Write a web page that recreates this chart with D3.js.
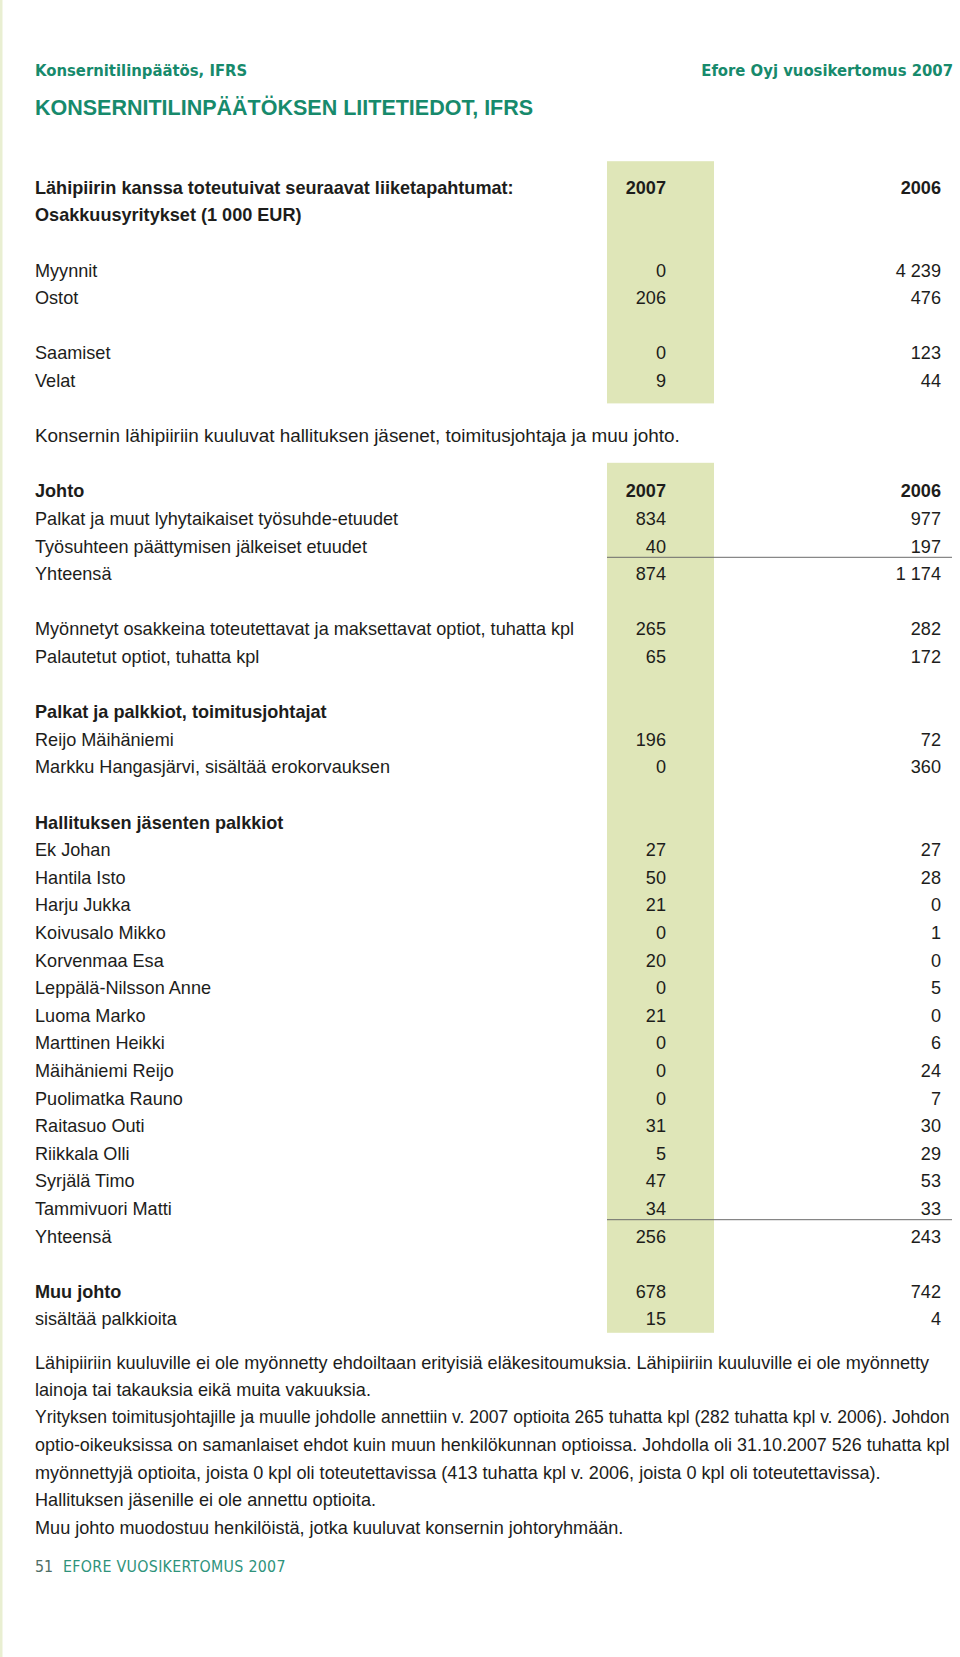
<!DOCTYPE html>
<html>
<head>
<meta charset="utf-8">
<script src="https://cdn.jsdelivr.net/npm/d3@7"></script>
<style>
  html, body { margin: 0; padding: 0; background: #fff; }
  svg { display: block; }
</style>
</head>
<body>
<div id="page"></div>
<script>
// ---- Data ----
const years = ["2007", "2006"];

const osakkLabels = ["Myynnit", "Ostot", "Saamiset", "Velat"];
const osakk2007 = [0, 206, 0, 9];
const osakk2006 = [4239, 476, 123, 44];

const johtoLabels = ["Palkat ja muut lyhytaikaiset työsuhde-etuudet", "Työsuhteen päättymisen jälkeiset etuudet", "Yhteensä"];
const johto2007 = [834, 40, 874];
const johto2006 = [977, 197, 1174];

const optioLabels = ["Myönnetyt osakkeina toteutettavat ja maksettavat optiot, tuhatta kpl", "Palautetut optiot, tuhatta kpl"];
const optio2007 = [265, 65];
const optio2006 = [282, 172];

const tjLabels = ["Reijo Mäihäniemi", "Markku Hangasjärvi, sisältää erokorvauksen"];
const tj2007 = [196, 0];
const tj2006 = [72, 360];

const hallLabels = ["Ek Johan", "Hantila Isto", "Harju Jukka", "Koivusalo Mikko", "Korvenmaa Esa",
  "Leppälä-Nilsson Anne", "Luoma Marko", "Marttinen Heikki", "Mäihäniemi Reijo", "Puolimatka Rauno",
  "Raitasuo Outi", "Riikkala Olli", "Syrjälä Timo", "Tammivuori Matti", "Yhteensä"];
const hall2007 = [27, 50, 21, 0, 20, 0, 21, 0, 0, 0, 31, 5, 47, 34, 256];
const hall2006 = [27, 28, 0, 1, 0, 5, 0, 6, 24, 7, 30, 29, 53, 33, 243];

const muuLabels = ["Muu johto", "sisältää palkkioita"];
const muu2007 = [678, 15];
const muu2006 = [742, 4];

const notes = [
  "Lähipiiriin kuuluville ei ole myönnetty ehdoiltaan erityisiä eläkesitoumuksia. Lähipiiriin kuuluville ei ole myönnetty",
  "lainoja tai takauksia eikä muita vakuuksia.",
  "Yrityksen toimitusjohtajille ja muulle johdolle annettiin v. 2007 optioita 265 tuhatta kpl (282 tuhatta kpl v. 2006). Johdon",
  "optio-oikeuksissa on samanlaiset ehdot kuin muun henkilökunnan optioissa. Johdolla oli 31.10.2007 526 tuhatta kpl",
  "myönnettyjä optioita, joista 0 kpl oli toteutettavissa (413 tuhatta kpl v. 2006, joista 0 kpl oli toteutettavissa).",
  "Hallituksen jäsenille ei ole annettu optioita.",
  "Muu johto muodostuu henkilöistä, jotka kuuluvat konsernin johtoryhmään."
];

// ---- Page setup ----
const W = 960, H = 1657;
const GREEN = "#178a6c";
const TEXT = "#1d1d1b";
const BODY_FONT = "'Liberation Sans', Arial, Helvetica, sans-serif";
const HEAD_FONT = "'DejaVu Sans Condensed', 'DejaVu Sans', sans-serif";
const FS = 18.1;

const fmt = d3.formatLocale({ decimal: ",", thousands: " ", grouping: [3], currency: ["", " €"] }).format(",d");

const svg = d3.select("#page").append("svg")
  .attr("width", W).attr("height", H)
  .attr("viewBox", `0 0 ${W} ${H}`);

// slot index -> text centre y (every line on the page sits on the same grid)
const y = d3.scaleLinear().domain([0, 1]).range([187.2, 214.8]);
// year -> right edge of the number column
const colX = d3.scaleOrdinal().domain(years).range([666, 941]);
const LEFT = 35;

// build rows: each row is placed on a slot of the grid
const rows = [];
const addHead = (slot, label, withYears) => rows.push({ slot, label, bold: true, vals: withYears ? years : null });
const addBlock = (slot, labels, a, b, boldFirst) =>
  labels.forEach((l, i) => rows.push({ slot: slot + i, label: l, bold: boldFirst && i === 0, vals: [fmt(a[i]), fmt(b[i])] }));

addHead(0, "Lähipiirin kanssa toteutuivat seuraavat liiketapahtumat:", true);
addHead(1, "Osakkuusyritykset (1 000 EUR)", false);
addBlock(3, osakkLabels.slice(0, 2), osakk2007.slice(0, 2), osakk2006.slice(0, 2));
addBlock(6, osakkLabels.slice(2), osakk2007.slice(2), osakk2006.slice(2));
rows.push({ slot: 9, label: "Konsernin lähipiiriin kuuluvat hallituksen jäsenet, toimitusjohtaja ja muu johto.", bold: false, vals: null, size: 18.9 });
addHead(11, "Johto", true);
addBlock(12, johtoLabels, johto2007, johto2006);
addBlock(16, optioLabels, optio2007, optio2006);
addHead(19, "Palkat ja palkkiot, toimitusjohtajat", false);
addBlock(20, tjLabels, tj2007, tj2006);
addHead(23, "Hallituksen jäsenten palkkiot", false);
addBlock(24, hallLabels, hall2007, hall2006);
addBlock(40, muuLabels, muu2007, muu2006, true);

// highlight bands behind the 2007 column: [first slot, last slot, pad above, pad below]
const bands = [[0, 7, 26, 23], [11, 41, 28, 14]];
// rules above totals: slot of the total row
const rules = [14, 38];

// thin pale strip on the left page edge
svg.append("rect").attr("x", 0).attr("y", 0).attr("width", 2.5).attr("height", H).attr("fill", "#e9efd2");

svg.selectAll("rect.band").data(bands).join("rect")
  .attr("class", "band")
  .attr("x", 607).attr("width", 107)
  .attr("y", d => y(d[0]) - d[2])
  .attr("height", d => y(d[1]) + d[3] - (y(d[0]) - d[2]))
  .attr("fill", "#dfe6b8");

svg.selectAll("line.rule").data(rules).join("line")
  .attr("class", "rule")
  .attr("x1", 607).attr("x2", 952)
  .attr("y1", d => (y(d) + y(d - 1)) / 2 - 2.5)
  .attr("y2", d => (y(d) + y(d - 1)) / 2 - 2.5)
  .attr("stroke", "#6b6b6b").attr("stroke-width", 1);

// ---- Header ----
svg.append("text").attr("x", LEFT).attr("y", 76)
  .attr("font-family", HEAD_FONT).attr("font-weight", "bold").attr("font-size", 16.5)
  .attr("fill", GREEN).text("Konsernitilinpäätös, IFRS");
svg.append("text").attr("x", 953).attr("y", 76).attr("text-anchor", "end")
  .attr("font-family", HEAD_FONT).attr("font-weight", "bold").attr("font-size", 16.5)
  .attr("fill", GREEN).text("Efore Oyj vuosikertomus 2007");
svg.append("text").attr("x", LEFT).attr("y", 115)
  .attr("font-family", BODY_FONT).attr("font-weight", "bold").attr("font-size", 21.5)
  .attr("fill", GREEN).text("KONSERNITILINPÄÄTÖKSEN LIITETIEDOT, IFRS");

// ---- Table rows ----
const rowG = svg.selectAll("g.row").data(rows).join("g")
  .attr("class", "row")
  .attr("transform", d => `translate(0,${y(d.slot)})`)
  .attr("font-family", BODY_FONT).attr("font-size", FS).attr("fill", TEXT);

rowG.append("text")
  .attr("x", LEFT).attr("dy", "0.36em")
  .attr("font-size", d => d.size || null)
  .attr("font-weight", d => d.bold ? "bold" : null)
  .text(d => d.label);

rowG.filter(d => d.vals).selectAll("text.val")
  .data(d => d.vals.map((v, i) => ({ v, year: years[i], bold: d.vals === years })))
  .join("text")
  .attr("class", "val")
  .attr("x", d => colX(d.year)).attr("dy", "0.36em")
  .attr("text-anchor", "end")
  .attr("font-weight", d => d.bold ? "bold" : null)
  .text(d => d.v);

// ---- Notes paragraph ----
// lines too long for the measure get a slightly smaller size (the print is tightly set)
const noteY = d3.scaleLinear().domain([0, 1]).range([1362, 1389.5]);
const NOTE_MAX = 950 - LEFT;
svg.selectAll("text.note").data(notes).join("text")
  .attr("class", "note")
  .attr("x", LEFT).attr("y", (d, i) => noteY(i)).attr("dy", "0.36em")
  .attr("font-family", BODY_FONT).attr("font-size", FS).attr("fill", TEXT)
  .text(d => d)
  .each(function () {
    const len = this.getComputedTextLength();
    if (len > NOTE_MAX) d3.select(this).attr("font-size", (FS * NOTE_MAX / len).toFixed(2));
  });

// ---- Footer ----
const foot = svg.append("text").attr("x", LEFT).attr("y", 1572)
  .attr("font-family", HEAD_FONT).attr("font-size", 15.8);
foot.append("tspan").attr("fill", "#4f6e66").text("51");
foot.append("tspan").attr("dx", 10).attr("fill", "#2f937b").attr("letter-spacing", "0.3px").text("EFORE VUOSIKERTOMUS 2007");
</script>
</body>
</html>
